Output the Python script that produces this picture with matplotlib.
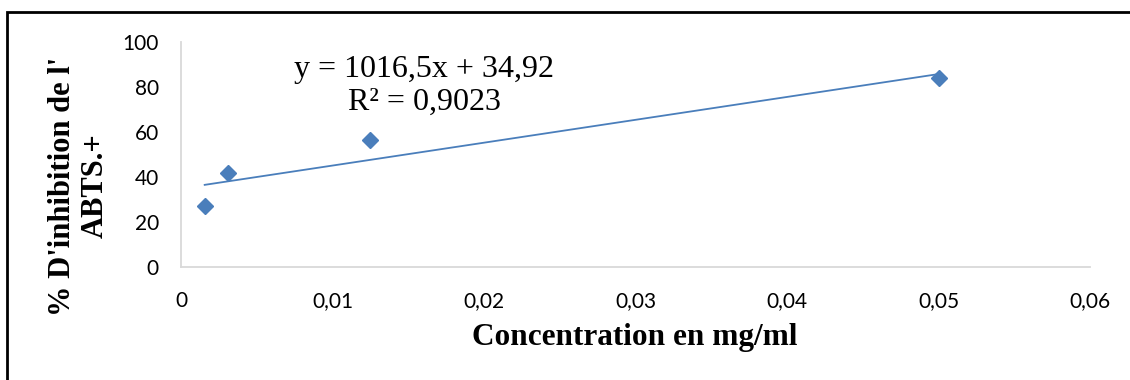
import numpy as np
import matplotlib
matplotlib.use("Agg")
import matplotlib.pyplot as plt
from matplotlib.patches import Rectangle

# Data
concentration = [0.0015625, 0.003125, 0.0125, 0.05]
inhibition = [27.2, 41.6, 56.4, 84.2]
slope = 1016.5
intercept = 34.92
equation_text = "y = 1016,5x + 34,92\nR² = 0,9023"
x_ticks = [0, 0.01, 0.02, 0.03, 0.04, 0.05, 0.06]
x_tick_labels = ["0", "0,01", "0,02", "0,03", "0,04", "0,05", "0,06"]
y_ticks = [0, 20, 40, 60, 80, 100]
y_tick_labels = ["0", "20", "40", "60", "80", "100"]

color = "#4a7ebb"

fig = plt.figure(figsize=(11.3, 3.8), dpi=100)
W, H = 1130, 380
ax = fig.add_axes([181/W, 1-267/H, (1090-181)/W, (267-42)/H])

# outer frame (top and left visible, rest outside the image)
fig.patches.append(Rectangle((7/W, -0.1), 1.2, (380-11.5)/H + 0.1, transform=fig.transFigure,
                             fill=False, edgecolor="black", linewidth=2.0))

# trendline
xt = np.array([min(concentration), max(concentration)])
ax.plot(xt, slope*xt + intercept, color=color, linewidth=1.3, zorder=2)
ax.plot(concentration, inhibition, linestyle="none", marker="D", markersize=8.5,
        color=color, markeredgecolor=color, zorder=3)

ax.set_xlim(0, 0.06)
ax.set_ylim(0, 100)
ax.set_xticks(x_ticks)
ax.set_xticklabels(x_tick_labels)
ax.set_yticks(y_ticks)
ax.set_yticklabels(y_tick_labels)
ax.tick_params(length=0, labelsize=15)
for lab in ax.get_xticklabels() + ax.get_yticklabels():
    lab.set_fontfamily("Lato")
ax.tick_params(axis="x", pad=17)
ax.tick_params(axis="y", pad=16)
for s in ["top", "right"]:
    ax.spines[s].set_visible(False)
for s in ["left", "bottom"]:
    ax.spines[s].set_color("#d9d9d9")
    ax.spines[s].set_linewidth(1.3)

fig.text(635/W, 1-337/H, "Concentration en mg/ml", ha="center", va="center",
         fontfamily="Liberation Serif", fontweight="bold", fontsize=22.5)
fig.text(79/W, 1-186/H, "% D'inhibition de l'\nABTS.+", rotation=90, ha="center", va="center",
         fontfamily="Liberation Serif", fontweight="bold", fontsize=22, linespacing=1.2)

fig.text(424/W, 1-86/H, equation_text, ha="center", va="center",
         fontfamily="Liberation Serif", fontsize=23, linespacing=1.15)

fig.savefig("out.png", dpi=100)
